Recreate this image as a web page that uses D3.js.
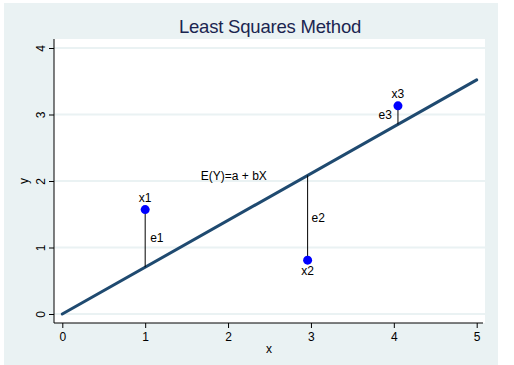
<!DOCTYPE html>
<html><head><meta charset="utf-8">
<script src="https://cdn.jsdelivr.net/npm/d3@7"></script>
<style>body{margin:0;background:#fff}svg{display:block}text{font-family:"Liberation Sans",Arial,sans-serif}</style>
</head><body>
<svg id="c" width="514" height="365"></svg>
<script>
const title = "Least Squares Method";
const xTicks = [0,1,2,3,4,5];
const yTicks = [0,1,2,3,4];
const pointNames = ["x1","x2","x3"];
const pointX = [1.0, 2.96, 4.05];
const pointY = [1.57, 0.81, 3.13];
const residNames = ["e1","e2","e3"];
const lineX = [0, 5];
const intercept = 0;
const slope = 0.704;
const lineLabel = "E(Y)=a + bX";

const svg = d3.select("#c");
svg.append("rect").attr("x",4).attr("y",3).attr("width",494).attr("height",362).attr("fill","#eaf2f3");
const pl = {l:54, r:485, t:39, b:323};
svg.append("rect").attr("x",pl.l).attr("y",pl.t).attr("width",pl.r-pl.l).attr("height",pl.b-pl.t).attr("fill","#fff");

const x = d3.scaleLinear().domain([0,5]).range([62.3,476.7]);
const y = d3.scaleLinear().domain([0,4]).range([314,48]);

// gridlines
svg.append("g").selectAll("line").data(yTicks).join("line")
  .attr("x1",pl.l).attr("x2",pl.r).attr("y1",d=>y(d)).attr("y2",d=>y(d))
  .attr("stroke","#eaf2f3").attr("stroke-width",2);

// axes
const yAxis = svg.append("g").attr("transform",`translate(${pl.l},0)`)
  .call(d3.axisLeft(y).tickValues(yTicks).tickSize(5).tickFormat(d3.format("d")));
yAxis.select(".domain").attr("d",`M0,${pl.t}V${pl.b}`).attr("stroke","#000");
yAxis.selectAll(".tick text").attr("transform","rotate(-90)").attr("x",0).attr("y",-9)
  .attr("dy","0").attr("text-anchor","middle").style("font-size","12px").attr("fill","#000");

const xAxis = svg.append("g").attr("transform",`translate(0,${pl.b})`)
  .call(d3.axisBottom(x).tickValues(xTicks).tickSize(5).tickFormat(d3.format("d")));
xAxis.select(".domain").attr("d",`M${pl.l},0H483`).attr("stroke","#000");
xAxis.selectAll(".tick text").attr("y",9).style("font-size","12px").attr("fill","#000");

svg.append("text").attr("x",269).attr("y",353).attr("text-anchor","middle").style("font-size","12px").text("x");
svg.append("text").attr("transform","translate(28,181) rotate(-90)").attr("text-anchor","middle").style("font-size","12px").text("y");

// title
svg.append("text").attr("x",270).attr("y",33).attr("text-anchor","middle")
  .style("font-size","18.5px").style("letter-spacing","-0.2px").attr("fill","#1a2550").text(title);

// fitted line
const fit = v => intercept + slope*v;
svg.append("path").datum(lineX)
  .attr("d", d3.line().x(d=>x(d)).y(d=>y(fit(d))))
  .attr("stroke","#1f4a70").attr("stroke-width",3).attr("fill","none").attr("stroke-linecap","round");

// residuals
const pts = pointX.map((v,i)=>({x:v,y:pointY[i],n:pointNames[i],e:residNames[i]}));
svg.append("g").selectAll("line").data(pts).join("line")
  .attr("x1",d=>x(d.x)).attr("x2",d=>x(d.x)).attr("y1",d=>y(d.y)).attr("y2",d=>y(fit(d.x)))
  .attr("stroke","#000").attr("stroke-width",1);

svg.append("g").selectAll("circle").data(pts).join("circle")
  .attr("cx",d=>x(d.x)).attr("cy",d=>y(d.y)).attr("r",4.5).attr("fill","#0000ff");

const fs = "12px";
// point labels
const nameOff = [[0,-8],[0,15],[0,-8]];
svg.append("g").selectAll("text").data(pts).join("text")
  .attr("x",(d,i)=>x(d.x)+nameOff[i][0]).attr("y",(d,i)=>y(d.y)+nameOff[i][1])
  .attr("text-anchor","middle").style("font-size",fs).text(d=>d.n);
// residual labels
const eOff = [[5,4,"start"],[4,4,"start"],[-6,4,"end"]];
svg.append("g").selectAll("text").data(pts).join("text")
  .attr("x",(d,i)=>x(d.x)+eOff[i][0]).attr("y",(d,i)=>(y(d.y)+y(fit(d.x)))/2+eOff[i][1])
  .attr("text-anchor",(d,i)=>eOff[i][2]).style("font-size",fs).text(d=>d.e);

svg.append("text").attr("x",x(2.07)).attr("y",y(2.02)).attr("text-anchor","middle").style("font-size",fs).text(lineLabel);
</script>
</body></html>
